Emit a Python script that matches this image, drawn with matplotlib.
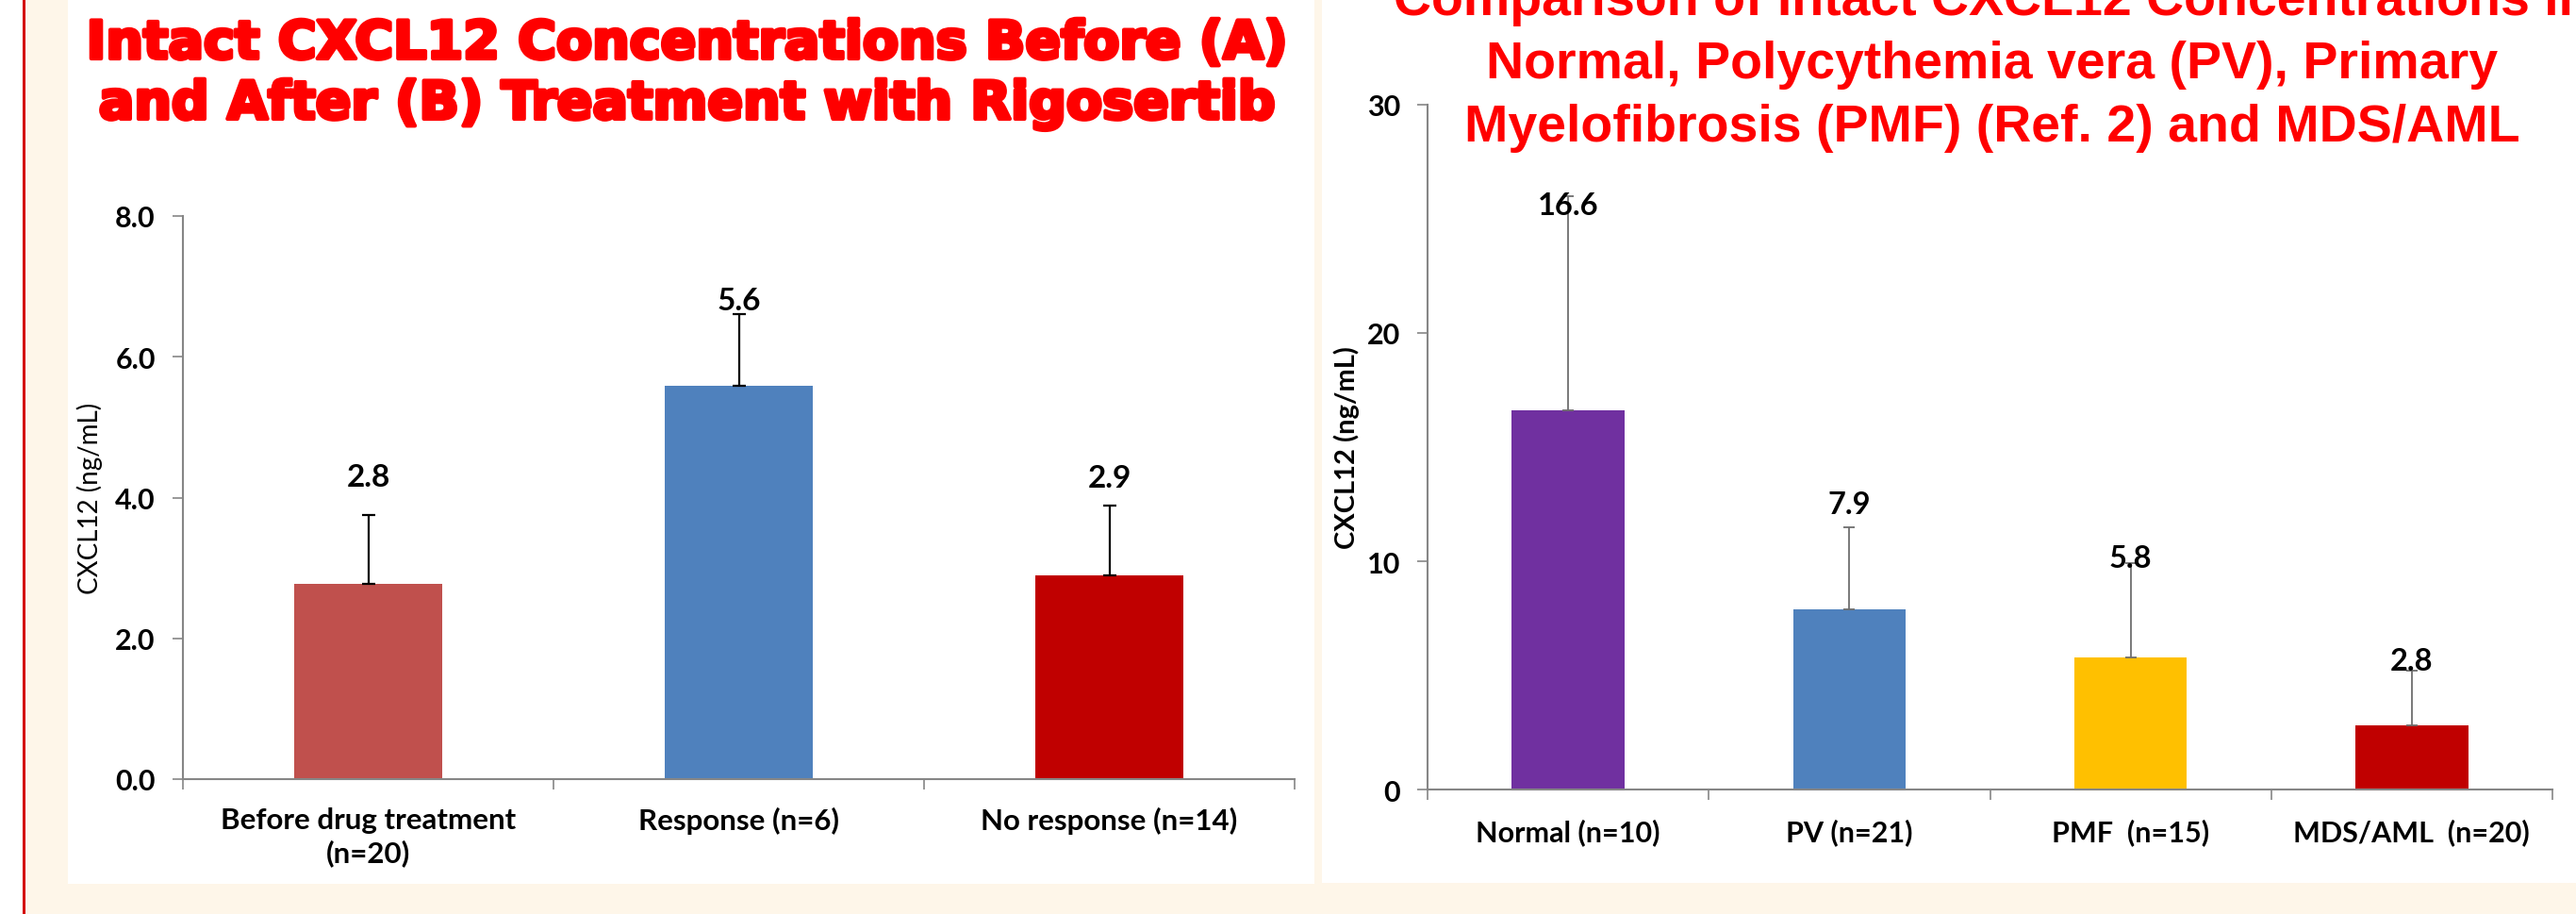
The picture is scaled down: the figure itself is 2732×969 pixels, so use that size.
import numpy as np
import matplotlib
matplotlib.use('Agg')
import matplotlib.pyplot as plt
import matplotlib.patheffects as pe
from matplotlib.patches import Rectangle

# Chart A data
a_cats = ['Before drug treatment\n(n=20)', 'Response (n=6)', 'No response (n=14)']
a_vals = [2.77, 5.59, 2.90]
a_errs = [0.98, 1.01, 0.99]
a_ticks = [0.0, 2.0, 4.0, 6.0, 8.0]

# Chart B data
b_cats = ['Normal (n=10)', 'PV (n=21)', 'PMF  (n=15)', 'MDS/AML  (n=20)']
b_vals = [16.6, 7.9, 5.8, 2.8]
b_errs = [9.4, 3.6, 4.1, 2.4]
b_ticks = [0, 10, 20, 30]

a_title = ['Intact CXCL12 Concentrations Before (A)',
           'and After (B) Treatment with Rigosertib']
b_title = ['Comparison of Intact CXCL12 Concentrations in',
           'Normal, Polycythemia vera (PV), Primary',
           'Myelofibrosis (PMF) (Ref. 2) and MDS/AML']
ylab = 'CXCL12 (ng/mL)'

# layout only (label offsets above error bar tops)
a_lab_off = [0.55, 0.2, 0.39]
b_lab_off = [-0.4, 1.0, 0.25, 0.45]

W, H = 2732, 970
FONT = 'Lato'
GRAY = '#868686'


def px_rect(fig, x0, y0, x1, y1, color):
    # pixel box (top-left origin) -> figure fraction rectangle
    r = Rectangle((x0 / W, 1 - y1 / H), (x1 - x0) / W, (y1 - y0) / H,
                  transform=fig.transFigure, facecolor=color,
                  edgecolor='none', zorder=-10)
    fig.patches.append(r)


def style_axes(ax, n, ylim, ticks, fmt, xpad):
    ax.set_facecolor('none')
    ax.set_xlim(-0.5, n - 0.5)
    ax.set_ylim(*ylim)
    for s in ['top', 'right']:
        ax.spines[s].set_visible(False)
    for s in ['left', 'bottom']:
        ax.spines[s].set_color(GRAY)
        ax.spines[s].set_linewidth(1.5)
    ax.set_yticks(ticks)
    ax.set_yticklabels([fmt.format(t) for t in ticks], fontfamily=FONT,
                       fontweight='bold', fontsize=22)
    ax.tick_params(axis='y', length=8, width=1.2, color=GRAY, pad=13)
    ax.set_xticks(np.arange(-0.5, n, 1.0), minor=True)
    ax.tick_params(axis='x', which='minor', length=8, width=1.2, color=GRAY,
                   direction='out')
    ax.tick_params(axis='x', which='major', length=0, pad=xpad)


def main():
    fig = plt.figure(figsize=(W / 100, H / 100), dpi=100)
    fig.patch.set_facecolor('#FEF6E9')

    # slide background pieces
    px_rect(fig, 0, 0, 24, H, 'white')
    px_rect(fig, 24, 0, 26.5, H, '#D40000')
    px_rect(fig, 72, 0, 1394, 938, 'white')
    px_rect(fig, 1402, 0, W, 937, 'white')

    # ---- Chart A
    ax1 = fig.add_axes([194 / W, 1 - 827 / H, (1373 - 194) / W, (827 - 230) / H])
    x1 = np.arange(len(a_vals))
    ax1.bar(x1, a_vals, width=0.4, color=['#C0504D', '#4F81BD', '#C00000'],
            yerr=[np.zeros(len(a_errs)), a_errs],
            error_kw=dict(ecolor='black', elinewidth=1.6, capsize=5, capthick=1.6))
    style_axes(ax1, 3, (0, 8), a_ticks, '{:.1f}', 21)
    ax1.set_xticks(x1)
    ax1.set_xticklabels(a_cats, fontfamily=FONT, fontweight='bold', fontsize=22.5,
                        linespacing=1.25)
    ax1.set_ylabel(ylab, fontfamily=FONT, fontsize=20)
    ax1.yaxis.set_label_coords(-0.084, 0.5)
    ax1.yaxis.label.set_va('center')
    for i in range(len(a_vals)):
        ax1.text(x1[i], a_vals[i] + a_errs[i] + a_lab_off[i], f'{a_vals[i]:.1f}',
                 ha='center', va='center', fontfamily=FONT, fontweight='bold',
                 fontsize=24)

    # ---- Chart B
    ax2 = fig.add_axes([1514 / W, 1 - 838 / H, (2707 - 1514) / W, (838 - 112) / H])
    x2 = np.arange(len(b_vals))
    ax2.bar(x2, b_vals, width=0.4,
            color=['#7030A0', '#4F81BD', '#FFC000', '#C00000'],
            yerr=[np.zeros(len(b_errs)), b_errs],
            error_kw=dict(ecolor='#6E6E6E', elinewidth=1.3, capsize=4, capthick=1.3))
    style_axes(ax2, 4, (0, 30), b_ticks, '{:d}', 22)
    ax2.set_xticks(x2)
    ax2.set_xticklabels(b_cats, fontfamily=FONT, fontweight='bold', fontsize=22)
    ax2.set_ylabel(ylab, fontfamily=FONT, fontweight='bold', fontsize=21)
    ax2.yaxis.set_label_coords(-0.072, 0.5)
    ax2.yaxis.label.set_va('center')
    for i in range(len(b_vals)):
        ax2.text(x2[i], b_vals[i] + b_errs[i] + b_lab_off[i], f'{b_vals[i]:.1f}',
                 ha='center', va='center', fontfamily=FONT, fontweight='bold',
                 fontsize=23.5)

    # titles
    heavy = [pe.withStroke(linewidth=3, foreground='#FF0000')]
    for k, line in enumerate(a_title):
        fig.text(728 / W, 1 - (63 + 64 * k) / H, line, ha='center', va='baseline',
                 color='#FF0000', fontsize=40, fontweight='bold',
                 family='DejaVu Sans', path_effects=heavy)
    for k, line in enumerate(b_title):
        fig.text(2113 / W, 1 - (16 + 67 * k) / H, line, ha='center', va='baseline',
                 color='#FF0000', fontsize=40, fontweight='bold',
                 family='Liberation Sans')

    fig.savefig('out.png', dpi=100, facecolor=fig.get_facecolor())


if __name__ == "__main__":
    main()
